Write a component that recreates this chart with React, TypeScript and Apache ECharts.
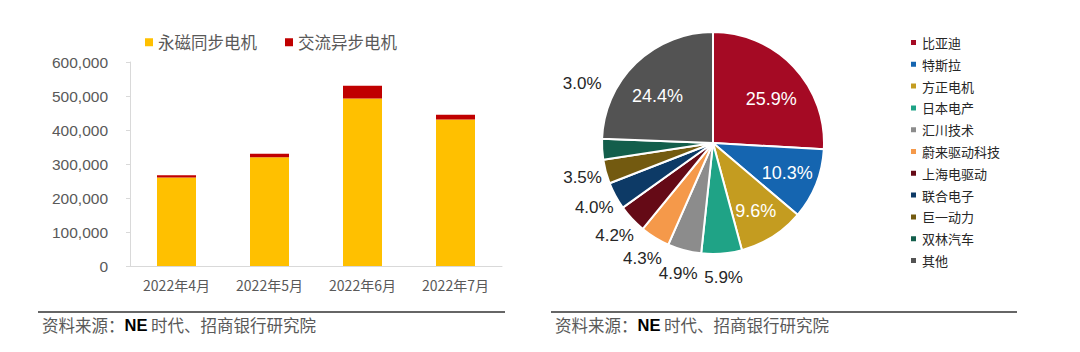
import React, { useEffect, useRef } from "react";
import * as echarts from "echarts";

const months = ["2022年4月", "2022年5月", "2022年6月", "2022年7月"];
const seriesNames = ["永磁同步电机", "交流异步电机"];
const pmsmValues = [260000, 320000, 493000, 431000];
const acimValues = [7000, 10000, 37000, 14000];

const makers = ["比亚迪", "特斯拉", "方正电机", "日本电产", "汇川技术", "蔚来驱动科技", "上海电驱动", "联合电子", "巨一动力", "双林汽车", "其他"];
const shares = [25.9, 10.3, 9.6, 5.9, 4.9, 4.3, 4.2, 4.0, 3.5, 3.0, 24.4];

const sourceLead = "资料来源：";
const sourceBold = "NE";
const sourceTail = " 时代、招商银行研究院";

const pieColors = ["#A50A24", "#1565B0", "#C49C20", "#1FA386", "#8C8C8C", "#F5994A", "#650A16", "#0D3A66", "#735A10", "#135E4B", "#535353"];
const barColors = ["#FFC000", "#C00000"];

const CJK = "'Noto Sans CJK SC', sans-serif";
const LAT = "'Liberation Sans', Arial, sans-serif";

export default function App() {
  const ref = useRef<HTMLDivElement>(null);
  useEffect(() => {
    if (!ref.current) return;
    const chart = echarts.init(ref.current, null, { renderer: "svg" });
    const isBig = (v: number) => v >= 9;
    const total = shares.reduce((a, b) => a + b, 0);
    // mid angle of each slice measured clockwise from 12 o'clock, used to nudge label styles
    let acc = 0;
    const midAngles = shares.map((v) => {
      const mid = ((acc + v / 2) / total) * Math.PI * 2;
      acc += v;
      return mid;
    });
    const fmt = (p: any) => p.value.toFixed(1) + "%";
    const pieCenter = [713, 143];
    const srcRich = {
      a: { fontSize: 16.5, fill: "#595959", color: "#595959", fontFamily: CJK },
      b: { fontSize: 16.5, fill: "#000000", color: "#000000", fontWeight: "bold", fontFamily: LAT },
    };
    const srcText = `{a|${sourceLead}}{b|${sourceBold}}{a|${sourceTail}}`;
    const option: any = {
      animation: false,
      backgroundColor: "#ffffff",
      legend: [
        {
          data: seriesNames,
          left: 140,
          top: 29,
          icon: "rect",
          itemWidth: 8,
          itemHeight: 8,
          itemGap: 28,
          textStyle: { fontSize: 16.5, color: "#595959", fontFamily: CJK },
        },
        {
          data: makers,
          orient: "vertical",
          left: 904,
          top: 31,
          icon: "rect",
          itemWidth: 7,
          itemHeight: 7,
          itemGap: 8.8,
          textStyle: { fontSize: 13, lineHeight: 13, color: "#262626", fontFamily: CJK },
        },
      ],
      grid: { left: 130, top: 62, width: 372, height: 204 },
      xAxis: {
        type: "category",
        data: months,
        axisLine: { lineStyle: { color: "#D9D9D9", width: 1 } },
        axisTick: { show: false },
        axisLabel: { color: "#595959", fontSize: 14, margin: 12, fontFamily: CJK },
      },
      yAxis: {
        type: "value",
        min: 0,
        max: 600000,
        interval: 100000,
        axisLine: { show: true, lineStyle: { color: "#D9D9D9" } },
        axisTick: { show: true, length: 4, lineStyle: { color: "#D9D9D9" } },
        splitLine: { show: false },
        axisLabel: {
          color: "#595959",
          fontSize: 15.5,
          margin: 22,
          fontFamily: LAT,
          formatter: (v: number) => v.toLocaleString("en-US"),
        },
      },
      series: [
        {
          name: seriesNames[0],
          type: "bar",
          stack: "total",
          data: pmsmValues,
          barWidth: 39,
          itemStyle: { color: barColors[0] },
        },
        {
          name: seriesNames[1],
          type: "bar",
          stack: "total",
          data: acimValues,
          barWidth: 39,
          itemStyle: { color: barColors[1] },
        },
        {
          name: "share",
          type: "pie",
          center: pieCenter,
          radius: 111,
          startAngle: 90,
          clockwise: true,
          itemStyle: { borderColor: "#ffffff", borderWidth: 2 },
          emphasis: { disabled: true },
          label: { show: false },
          labelLine: { show: false },
          data: makers.map((m, i) => ({
            name: m,
            value: shares[i],
            itemStyle: { color: pieColors[i] },
          })),
        },
        {
          // transparent helper ring: places the white in-slice labels at ~0.7 of the radius
          name: "shareInner",
          type: "pie",
          center: pieCenter,
          radius: 154,
          startAngle: 90,
          clockwise: true,
          silent: true,
          itemStyle: { color: "rgba(0,0,0,0)", borderWidth: 0 },
          emphasis: { disabled: true },
          labelLine: { show: false },
          labelLayout: { hideOverlap: false },
          label: { position: "inside", color: "#ffffff", fontSize: 18, fontFamily: LAT, formatter: fmt },
          data: makers.map((m, i) => ({
            name: m + "_in",
            value: shares[i],
            label: { show: isBig(shares[i]), offset: [0, Math.cos(midAngles[i]) > 0.3 ? 11 : 0] },
          })),
        },
        {
          // transparent helper ring: centres the dark outside labels just beyond the rim
          name: "shareOuter",
          type: "pie",
          center: pieCenter,
          radius: 264,
          startAngle: 90,
          clockwise: true,
          silent: true,
          itemStyle: { color: "rgba(0,0,0,0)", borderWidth: 0 },
          emphasis: { disabled: true },
          labelLine: { show: false },
          labelLayout: { hideOverlap: false },
          label: { position: "inside", color: "#262626", fontSize: 17, fontFamily: LAT, formatter: fmt },
          data: makers.map((m, i) => ({
            name: m + "_out",
            value: shares[i],
            label: {
              show: !isBig(shares[i]),
              // the smallest left-side label sits above the pie, clear of its neighbours
              offset: i === 9 ? [4, -67] : [0, 0],
            },
          })),
        },
      ],
      graphic: [
        { type: "line", shape: { x1: 38, y1: 312, x2: 505, y2: 312 }, style: { stroke: "#333333", lineWidth: 1.5 } },
        { type: "line", shape: { x1: 551, y1: 312, x2: 1017, y2: 312 }, style: { stroke: "#333333", lineWidth: 1.5 } },
        { type: "text", x: 42, y: 316, style: { text: srcText, rich: srcRich, fontSize: 16.5, fill: "#595959" } },
        { type: "text", x: 555, y: 316, style: { text: srcText, rich: srcRich, fontSize: 16.5, fill: "#595959" } },
      ],
    };
    chart.setOption(option);
    return () => chart.dispose();
  }, []);
  return <div ref={ref} style={{ position: "absolute", left: 0, top: 0, width: 1080, height: 352 }} />;
}
